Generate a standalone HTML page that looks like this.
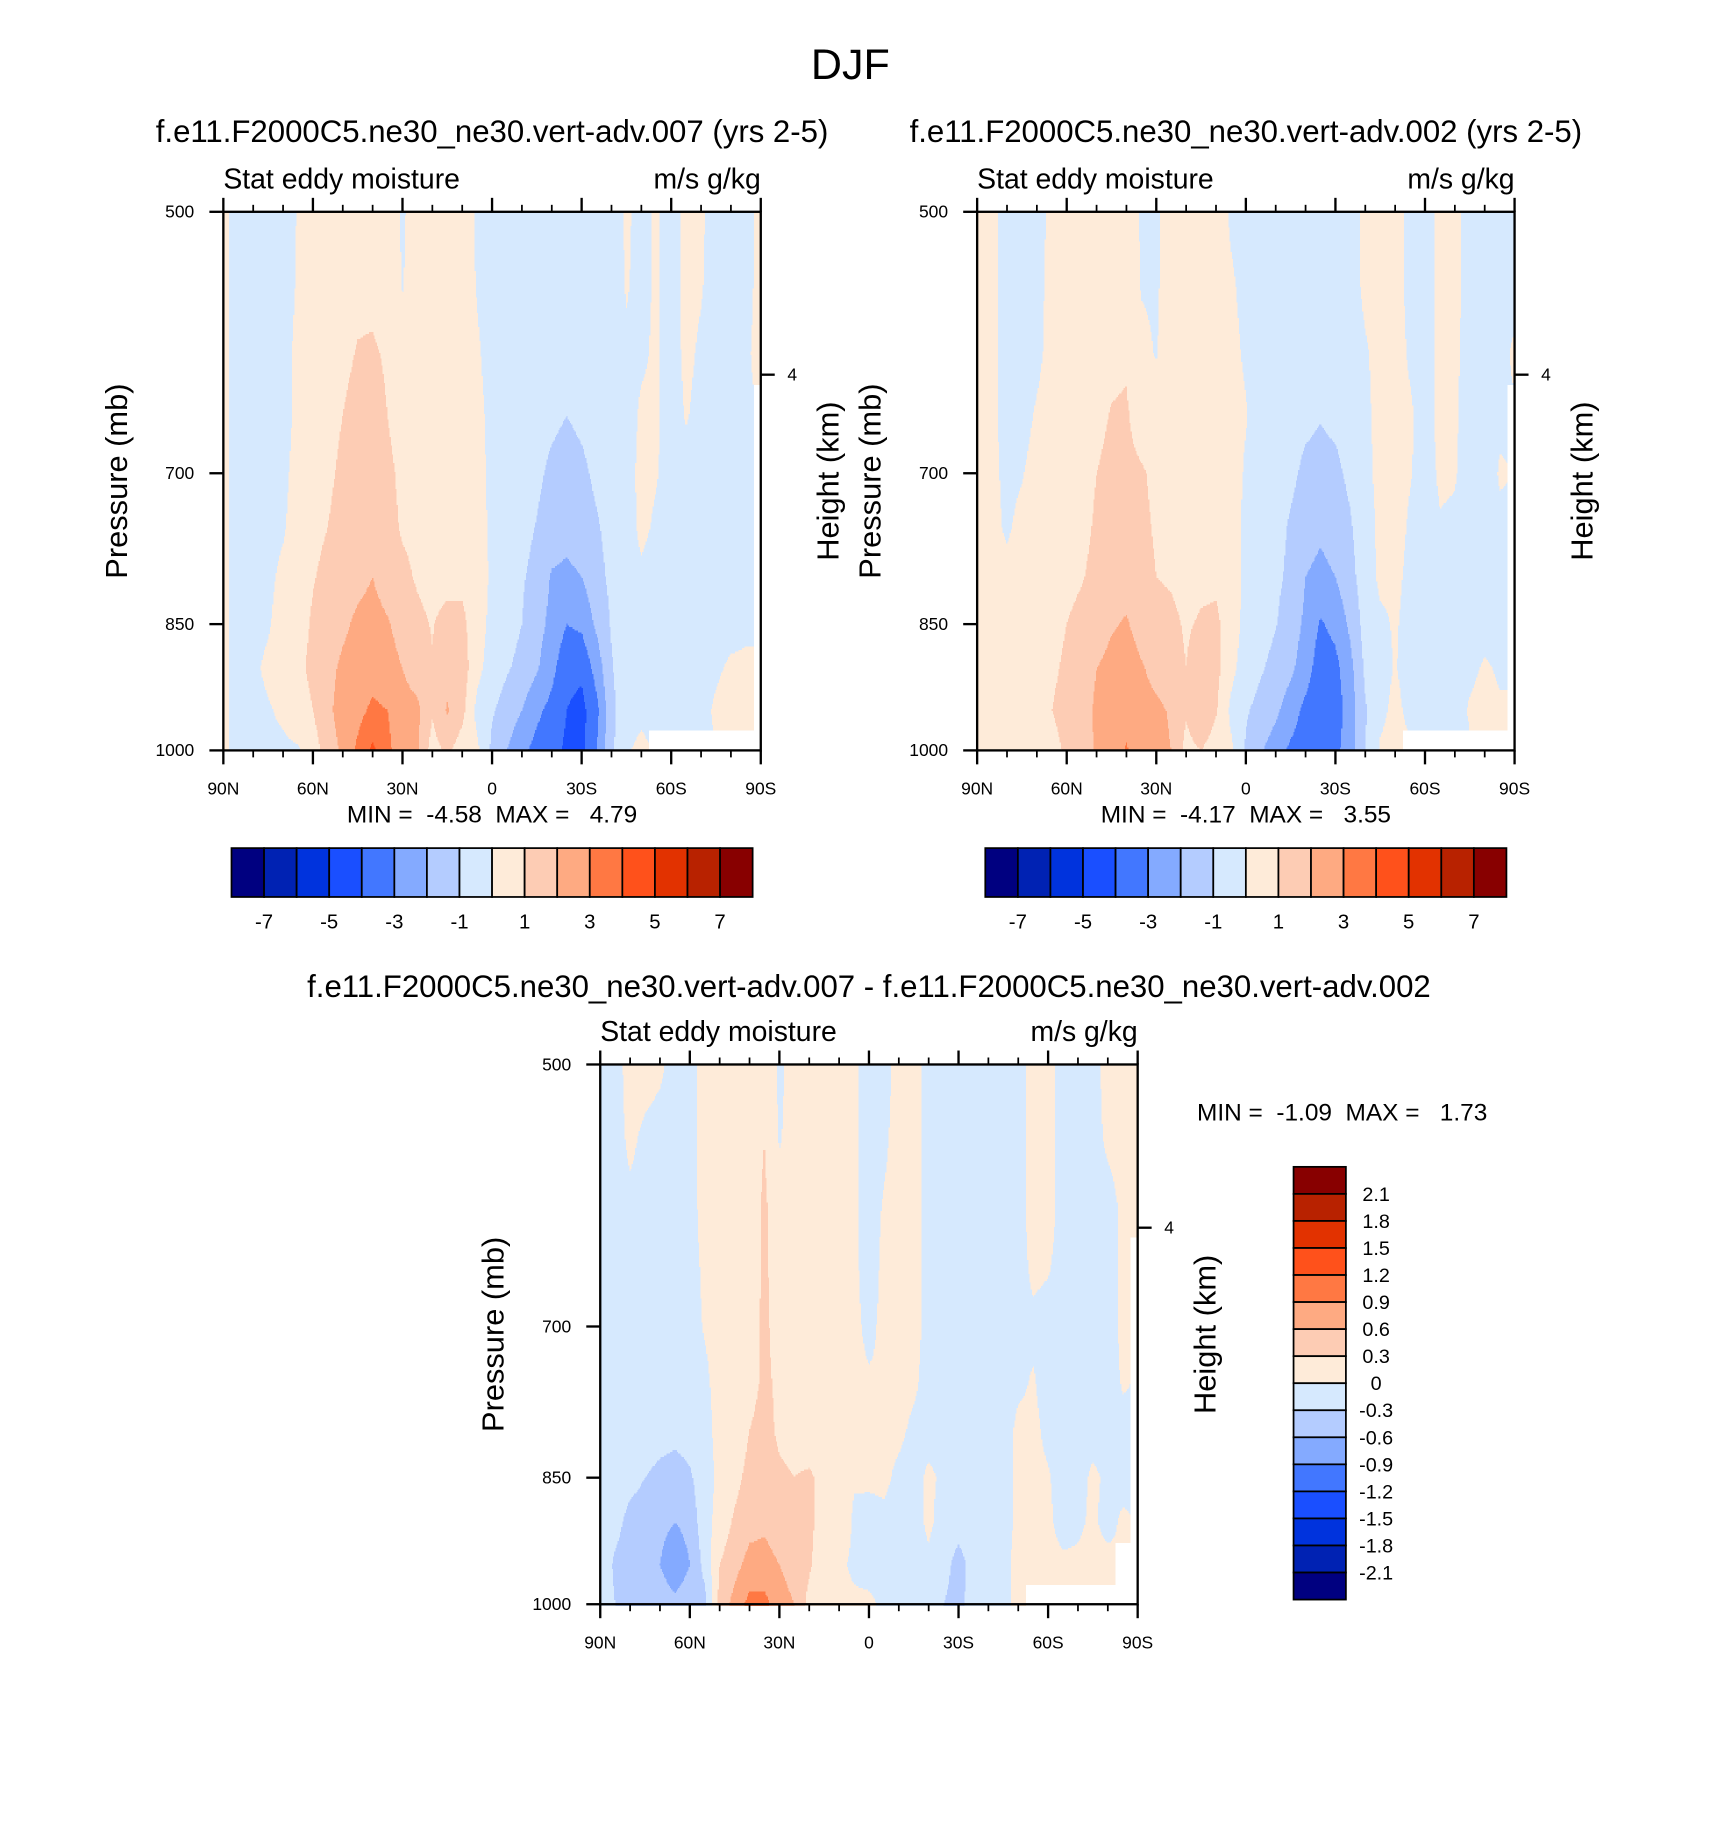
<!DOCTYPE html>
<html><head><meta charset="utf-8">
<style>
html,body{margin:0;padding:0;background:#fff;}
svg{display:block;font-family:"Liberation Sans",Arial,sans-serif;}
</style></head>
<body>
<svg id="fig" width="1710" height="1830" viewBox="0 0 1470 1573" xmlns="http://www.w3.org/2000/svg">
<rect x="0" y="0" width="1470" height="1573" fill="#fff"/>
<text x="731" y="68" font-size="37" text-anchor="middle">DJF</text>
</svg>
<script>
// ---------- data ----------
const latLabels = ["90N","60N","30N","0","30S","60S","90S"];
const pressureTicks = [500,700,850,1000];
const levels = [500,550,600,650,700,750,800,850,900,950,1000];
const N = NaN;
// each column = one latitude (90N -> 90S, 5 deg step), values by level 500..1000
const caseA = [
[.3,.3,.3,.3,.3,.3,.3,.3,.3,.3,.3],
[-.4,-.4,-.4,-.4,-.4,-.4,-.4,-.4,-.4,-.4,-.4],
[-.4,-.4,-.4,-.4,-.4,-.4,-.4,-.3,-.2,-.3,-.4],
[-.4,-.4,-.4,-.4,-.4,-.3,-.2,-.1,.2,-.1,-.3],
[-.4,-.4,-.3,-.3,-.2,-.1,.2,.4,.5,.2,-.2],
[.05,.1,.2,.2,.3,.4,.6,.7,.8,.6,-.1],
[.3,.3,.4,.5,.6,.8,.95,1.1,1.2,1.0,.5],
[.4,.5,.6,.7,.8,1.0,1.2,1.4,1.7,1.8,1.5],
[.5,.6,.8,1.0,1.2,1.4,1.6,1.8,2.2,2.4,2.2],
[.6,.8,1.05,1.3,1.4,1.5,1.7,2.2,2.5,2.7,3.2],
[.6,.8,1.1,1.3,1.5,1.6,2.0,2.4,2.6,3.2,4.2],
[.5,.6,.9,1.0,1.2,1.3,1.5,2.1,2.4,3.0,3.3],
[-.1,-.05,.3,.6,.8,.9,1.2,1.6,2.0,2.3,2.2],
[.4,.5,.5,.6,.7,.8,.9,1.2,1.6,2.2,2.1],
[.4,.4,.5,.5,.6,.6,.7,.95,1.05,1.1,.6],
[.4,.4,.5,.5,.6,.6,.7,1.3,1.6,2.1,1.2],
[.4,.4,.5,.5,.5,.6,.8,1.2,1.5,1.3,.5],
[-.1,-.05,.1,.2,.3,.4,.6,.5,.3,-.3,.2],
[-.4,-.4,-.3,-.2,-.2,-.2,-.2,-.3,-.5,-.9,-1.2],
[-.4,-.4,-.4,-.4,-.5,-.5,-.5,-.6,-.9,-1.4,-2.0],
[-.4,-.4,-.4,-.5,-.6,-.7,-.9,-1.0,-1.3,-2.0,-2.8],
[-.4,-.4,-.5,-.6,-.8,-1.05,-1.3,-1.6,-1.9,-2.8,-3.3],
[-.4,-.5,-.6,-.8,-1.2,-1.5,-2.1,-2.3,-2.7,-3.3,-3.6],
[-.4,-.5,-.7,-1.0,-1.4,-1.7,-2.2,-3.0,-3.7,-4.0,-4.2],
[-.4,-.5,-.6,-.8,-1.2,-1.5,-2.0,-2.8,-3.8,-4.3,-4.3],
[-.4,-.4,-.5,-.6,-.8,-1.1,-1.3,-1.8,-2.6,-3.3,-3.0],
[-.4,-.4,-.4,-.5,-.6,-.7,-.8,-.9,-1.1,-1.3,-1.2],
[.1,.05,-.1,-.3,-.3,-.3,-.3,-.3,-.3,-.3,-.1],
[-.2,-.2,-.1,.1,.2,.15,-.1,-.3,-.3,-.2,.2],
[.1,.1,.1,.1,.05,-.1,-.3,-.3,-.3,-.3,N],
[-.3,-.3,-.3,-.3,-.3,-.3,-.3,-.3,-.3,-.3,N],
[.2,.2,.15,.05,-.2,-.3,-.3,-.3,-.3,-.3,N],
[.1,.05,-.1,-.2,-.3,-.3,-.3,-.3,-.3,-.2,N],
[-.3,-.3,-.3,-.3,-.3,-.3,-.3,-.3,-.1,.1,N],
[-.3,-.3,-.3,-.3,-.3,-.3,-.3,-.2,.1,.3,N],
[-.2,-.2,-.1,-.1,-.2,-.2,-.2,-.1,.1,.2,N],
[.2,.2,.2,N,N,N,N,N,N,N,N]
];
const caseB = [
[.3,.3,.3,.3,.3,.3,.3,.3,.3,.3,.3],
[.2,.2,.2,.2,.2,.2,.2,.2,.2,.2,.2],
[-.3,-.3,-.3,-.3,-.2,-.1,.2,.3,.4,.4,.3],
[-.4,-.4,-.4,-.3,-.05,.2,.3,.4,.5,.5,.2],
[-.3,-.3,-.2,.1,.3,.4,.5,.6,.7,.7,.4],
[.2,.3,.3,.4,.4,.5,.6,.8,.9,1.0,.8],
[.3,.3,.4,.5,.5,.6,.8,1.0,1.1,1.2,1.1],
[.4,.4,.5,.6,.7,.8,.95,1.2,1.4,1.5,1.3],
[.5,.5,.6,.8,1.0,1.1,1.2,1.5,2.0,2.2,2.2],
[.5,.6,.8,1.05,1.2,1.3,1.5,1.9,2.3,2.4,2.4],
[.5,.6,.9,1.1,1.2,1.3,1.6,2.1,2.5,2.6,3.1],
[-.1,-.05,.2,.6,1.1,1.2,1.3,1.6,2.1,2.3,2.4],
[-.1,-.1,-.05,.4,.8,.9,1.0,1.3,1.7,2.2,2.3],
[.4,.4,.5,.6,.7,.8,.9,1.2,1.4,1.9,2.0],
[.4,.4,.5,.5,.6,.6,.7,.9,1.0,1.1,.7],
[.4,.4,.5,.5,.6,.6,.8,1.1,1.5,1.9,1.0],
[.4,.4,.5,.5,.5,.6,.8,1.2,1.3,1.1,.5],
[-.1,.1,.2,.3,.4,.4,.5,.5,.3,-.2,.2],
[-.3,-.2,-.1,.05,-.1,-.2,-.2,-.3,-.5,-.9,-1.1],
[-.4,-.4,-.4,-.4,-.4,-.5,-.5,-.6,-.9,-1.3,-1.9],
[-.4,-.4,-.4,-.5,-.6,-.7,-.8,-.95,-1.3,-1.8,-2.5],
[-.4,-.4,-.5,-.6,-.8,-1.1,-1.2,-1.5,-1.8,-2.5,-3.2],
[-.4,-.5,-.6,-.8,-1.2,-1.5,-2.0,-2.2,-2.5,-3.3,-3.5],
[-.4,-.5,-.7,-.95,-1.3,-1.8,-2.3,-3.1,-3.6,-3.8,-3.9],
[-.4,-.5,-.6,-.8,-1.2,-1.5,-2.0,-2.7,-3.3,-3.5,-3.3],
[-.4,-.4,-.5,-.6,-.8,-1.1,-1.3,-1.8,-2.3,-2.5,-2.4],
[.2,.2,-.1,-.2,-.3,-.4,-.5,-.6,-.8,-1.1,-1.0],
[.3,.3,.3,.3,.3,.2,.2,-.2,-.3,-.2,.1],
[.3,.3,.3,.3,.3,.3,.2,.1,.05,.2,.3],
[-.2,-.2,-.1,.1,.05,-.1,-.2,-.3,-.3,-.2,N],
[-.3,-.3,-.3,-.3,-.3,-.3,-.3,-.3,-.3,-.3,N],
[.2,.2,.2,.2,.1,-.05,-.2,-.3,-.3,-.3,N],
[.2,.2,.1,.1,.05,-.1,-.2,-.3,-.3,-.4,N],
[-.3,-.3,-.2,-.3,-.3,-.3,-.3,-.3,-.2,.1,N],
[-.3,-.3,-.3,-.3,-.3,-.3,-.3,-.3,.1,.3,N],
[-.3,-.3,-.2,-.1,.05,-.1,-.2,-.2,-.1,.1,N],
[-.2,-.2,.1,N,N,N,N,N,N,N,N]
];
const diffAB = [
[-.1,-.1,-.1,-.1,-.1,-.1,-.1,-.1,-.1,-.1,-.1],
[-.1,-.1,-.1,-.1,-.1,-.1,-.1,-.1,-.2,-.35,-.3],
[.1,.05,-.05,-.1,-.1,-.1,-.1,-.2,-.4,-.45,-.4],
[.1,-.05,-.1,-.1,-.1,-.1,-.1,-.3,-.45,-.5,-.4],
[.05,-.1,-.1,-.1,-.1,-.1,-.15,-.4,-.5,-.6,-.4],
[-.1,-.1,-.1,-.1,-.1,-.1,-.2,-.45,-.6,-.85,-.5],
[-.1,-.1,-.1,-.1,-.1,-.1,-.15,-.35,-.5,-.6,-.4],
[.1,.1,.1,.05,.02,-.05,-.1,-.1,-.1,-.2,-.4],
[.1,.1,.1,.1,.1,.1,.1,.05,.1,.3,.4],
[.1,.1,.1,.1,.1,.1,.1,.2,.35,.5,.7],
[.15,.15,.15,.15,.2,.2,.3,.4,.5,.7,1.0],
[.2,.3,.35,.35,.35,.35,.4,.45,.55,.7,1.0],
[-.05,-.02,.1,.15,.2,.25,.25,.35,.45,.6,.7],
[.1,.1,.1,.1,.1,.1,.2,.3,.35,.5,.6],
[.1,.1,.1,.1,.1,.1,.1,.35,.4,.35,.2],
[.1,.1,.1,.1,.1,.1,.1,.2,.1,.05,.05],
[.1,.1,.1,.1,.1,.1,.1,.15,.25,.05,.1],
[.05,.05,.05,.05,.05,.05,.05,.03,-.05,-.05,.05],
[-.1,-.1,-.1,-.1,-.05,.02,.03,.05,-.1,-.1,.05],
[-.1,-.05,.02,.05,.05,.02,.05,.05,-.05,-.1,-.05],
[.1,.1,.1,.1,.1,.1,.05,-.05,-.1,-.1,-.1],
[.1,.1,.1,.1,.1,.05,-.05,-.1,-.1,-.1,-.2],
[-.1,-.1,-.1,-.1,-.1,-.1,-.1,.05,.05,-.05,-.2],
[-.1,-.1,-.1,-.1,-.1,-.1,-.1,-.05,-.1,-.2,-.3],
[-.1,-.1,-.1,-.1,-.1,-.1,-.1,-.1,-.2,-.4,-.4],
[-.1,-.1,-.1,-.1,-.1,-.1,-.1,-.1,-.1,-.2,-.15],
[-.1,-.1,-.1,-.1,-.1,-.1,-.1,-.1,-.1,-.1,-.1],
[-.1,-.1,-.1,-.1,-.1,-.1,-.1,-.1,-.1,-.1,-.1],
[-.1,-.1,-.1,-.1,-.1,-.05,.05,.05,.05,.1,.1],
[.1,.1,.1,.05,-.05,.02,.05,.05,.1,.1,N],
[.1,.1,.1,.02,-.1,-.1,-.05,.02,.05,.1,N],
[-.1,-.1,-.1,-.1,-.1,-.1,-.1,-.1,-.1,.05,N],
[-.1,-.1,-.1,-.1,-.1,-.1,-.1,-.1,-.05,.05,N],
[-.1,-.1,-.1,-.1,-.1,-.1,-.1,.05,.05,.1,N],
[.1,.05,-.1,-.1,-.1,-.1,-.1,-.05,-.1,.1,N],
[.1,.1,.05,.05,.05,.02,-.05,-.1,.05,N,N],
[.1,.1,.1,N,N,N,N,N,N,N,N]
];
const caseLevelsA = [-7,-6,-5,-4,-3,-2,-1,0,1,2,3,4,5,6,7];
const caseLabelsA = ["-7","-5","-3","-1","1","3","5","7"];
const diffLevels = [-2.1,-1.8,-1.5,-1.2,-0.9,-0.6,-0.3,0,0.3,0.6,0.9,1.2,1.5,1.8,2.1];
const diffLabels = ["2.1","1.8","1.5","1.2","0.9","0.6","0.3","0","-0.3","-0.6","-0.9","-1.2","-1.5","-1.8","-2.1"];
const palette = ["#000080","#0022b3","#0033dd","#1a4fff","#4277ff","#84aaff","#b4ccff","#d6e9fe","#feebd9","#fdccb4","#feaa82","#ff7843","#ff511b","#e23200","#b82200","#880000"];
const statsA = "MIN =  -4.58  MAX =   4.79";
const statsB = "MIN =  -4.17  MAX =   3.55";
const statsD = "MIN =  -1.09  MAX =   1.73";
const titleA = "f.e11.F2000C5.ne30_ne30.vert-adv.007 (yrs 2-5)";
const titleB = "f.e11.F2000C5.ne30_ne30.vert-adv.002 (yrs 2-5)";
const titleD = "f.e11.F2000C5.ne30_ne30.vert-adv.007 - f.e11.F2000C5.ne30_ne30.vert-adv.002";

// ---------- drawing ----------
const NS = "http://www.w3.org/2000/svg";
const svg = document.getElementById("fig");
function mk(tag, attrs, parent){
  const e = document.createElementNS(NS, tag);
  for (const k in attrs) e.setAttribute(k, attrs[k]);
  (parent||svg).appendChild(e);
  return e;
}
function txt(s, x, y, size, anchor, parent){
  const t = mk("text", {x:x, y:y, "font-size":size, "text-anchor":anchor||"start"}, parent);
  t.textContent = s;
  return t;
}
function colorFor(v, lev){
  let k = 0;
  while (k < lev.length && v >= lev[k]) k++;
  return palette[k];
}

function drawPanel(px, py, W, H, field, lev, title, tcx, tcy, name){
  const g = mk("g", {});
  
  
  const lnR = Math.log(2);
  const xScale = i => px + W * i / 36;
  const yScale = p => py + H * Math.log(p/500) / lnR;
  const nLat = field.length, nLev = levels.length;
  const lf = levels.map(p => Math.log(p/500)/lnR);
  const fill = mk("g", {"shape-rendering":"crispEdges"}, g);
  
  
  const dy = 1.5;
  for (let yy = 0; yy < H; yy += dy){
    const fy = (yy + dy/2) / H;
    let r = 0; while (r < nLev-2 && lf[r+1] < fy) r++;
    const ty = Math.min(1, Math.max(0, (fy - lf[r]) / (lf[r+1]-lf[r])));
    const rn = ty < 0.5 ? r : r+1;
    let runC = null, runX = 0;
    for (let xx = 0; xx <= W; xx++){
      let c = null;
      if (xx < W){
        const fx = (xx + 0.5) / W * (nLat-1);
        const i = Math.min(nLat-2, Math.floor(fx)); const tx = fx - i;
        const inn = tx < 0.5 ? i : i+1;
        if (!isNaN(field[inn][rn])){
          let a = field[i][r], b = field[i+1][r], cc = field[i][r+1], d = field[i+1][r+1];
          const vals = [a,b,cc,d].filter(v=>!isNaN(v));
          const avg = vals.reduce((s,v)=>s+v,0)/vals.length;
          if (isNaN(a)) a = avg; if (isNaN(b)) b = avg; if (isNaN(cc)) cc = avg; if (isNaN(d)) d = avg;
          const v = (a*(1-tx)+b*tx)*(1-ty) + (cc*(1-tx)+d*tx)*ty;
          c = colorFor(v, lev);
        }
      }
      if (c !== runC){
        if (runC) mk("rect", {x:px+runX, y:py+yy, width:xx-runX, height:dy+0.4, fill:runC}, fill);
        runC = c; runX = xx;
      }
    }
  }
  const frame = mk("rect", {x:px, y:py, width:W, height:H, fill:"none", stroke:"#000", "stroke-width":2}, g);
  
  
  const ax = mk("g", {stroke:"#000"}, g);
  
  
  for (let d = 0; d <= 180; d += 10){
    const x = xScale(d/5);
    const L = d % 30 === 0 ? 12 : 6;
    mk("line", {x1:x, y1:py, x2:x, y2:py-L, "stroke-width": d%30===0?2:1.5}, ax);
    mk("line", {x1:x, y1:py+H, x2:x, y2:py+H+L, "stroke-width": d%30===0?2:1.5}, ax);
  }
  latLabels.forEach((s, k) => {
    const t = txt(s, xScale(k*6), py+H+38, 15, "middle", g);
    
    
  });
  pressureTicks.forEach(p => {
    mk("line", {x1:px, y1:yScale(p), x2:px-12, y2:yScale(p), stroke:"#000", "stroke-width":2}, g);
    const t = txt(String(p), px-25, yScale(p)+5, 15, "end", g);
    
    
  });
  const y4 = yScale(616.6);
  mk("line", {x1:px+W, y1:y4, x2:px+W+12, y2:y4, stroke:"#000", "stroke-width":2}, g);
  const t4 = txt("4", px+W+27, y4+5, 15, "middle", g);
  
  
  const ytl = txt("Pressure (mb)", 0, 0, 26.5, "middle", g);
  ytl.setAttribute("transform", `translate(${px-83},${py+H/2}) rotate(-90)`);
  
  
  const htl = txt("Height (km)", 0, 0, 26.5, "middle", g);
  htl.setAttribute("transform", `translate(${px+W+67},${py+H/2}) rotate(-90)`);
  
  
  const lt = txt("Stat eddy moisture", px, py-20, 24.4, "start", g);
  
  
  const rt = txt("m/s g/kg", px+W, py-20, 24.4, "end", g);
  
  
  const tt = txt(title, tcx, tcy, 26.8, "middle", g);
  
  
}

function hColorbar(x0, y0, w, h, name){
  const g = mk("g", {});
  
  
  const bw = w / palette.length;
  palette.forEach((c, k) => {
    const r = mk("rect", {x:x0+k*bw, y:y0, width:bw, height:h, fill:c, stroke:"#000", "stroke-width":1.5}, g);
    
    
  });
  caseLabelsA.forEach((s, k) => {
    const t = txt(s, x0 + (1 + 2*k)*bw, y0+h+27, 17.5, "middle", g);
    
    
  });
}

drawPanel(192, 182, 462, 463, caseA, caseLevelsA, titleA, 423, 122, "panel-case-007");
drawPanel(840, 182, 462, 463, caseB, caseLevelsA, titleB, 1071, 122, "panel-case-002");
drawPanel(516, 915, 462, 464, diffAB, diffLevels, titleD, 747, 857, "panel-difference");

let s1 = txt(statsA, 423, 707, 21, "middle");


let s2 = txt(statsB, 1071, 707, 21, "middle");


let s3 = txt(statsD, 1029, 963, 21, "start");


s1.style.whiteSpace = "pre"; s2.style.whiteSpace = "pre"; s3.style.whiteSpace = "pre";

hColorbar(199, 729, 448, 42, "colorbar-case-007");
hColorbar(847, 729, 448, 42, "colorbar-case-002");

(function(){
  const g = mk("g", {});
  
  
  const x0 = 1112, y0 = 1003, w = 45, H = 372;
  const bh = H / palette.length;
  palette.slice().reverse().forEach((c, k) => {
    const r = mk("rect", {x:x0, y:y0+k*bh, width:w, height:bh, fill:c, stroke:"#000", "stroke-width":1.5}, g);
    
    
  });
  diffLabels.forEach((s, k) => {
    const t = txt(s, 1183, y0 + (k+1)*bh + 6, 17, "middle", g);
    
    
  });
})();
</script>
</body></html>
